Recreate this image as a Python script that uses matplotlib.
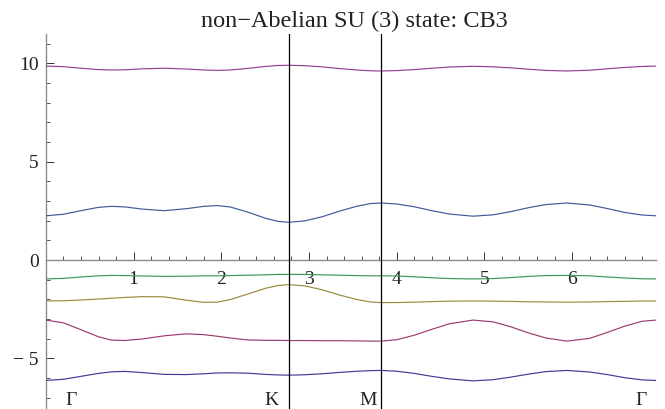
import colorsys
import matplotlib
matplotlib.use("Agg")
import matplotlib.pyplot as plt
from matplotlib.ticker import FixedLocator

# ---- data ----
title = "non\u2212Abelian SU (3) state: CB3"
k_pos = 2.77
m_pos = 3.82
x_end = 6.96
sym_labels = ["\u0393", "K", "M", "\u0393"]
sym_x = [0.29, 2.57, 3.67, 6.79]
sym_y = -7.14

k = [0.0, 0.2, 0.4, 0.6, 0.75, 0.9, 1.1, 1.35, 1.6, 1.8, 1.95, 2.1, 2.3, 2.5, 2.65,
     2.77, 2.95, 3.15, 3.35, 3.55, 3.7, 3.82, 4.0, 4.2, 4.4, 4.6, 4.87, 5.1, 5.3,
     5.5, 5.7, 5.94, 6.2, 6.4, 6.6, 6.8, 6.96]

band_top = [9.86, 9.83, 9.75, 9.68, 9.66, 9.67, 9.72, 9.75, 9.71, 9.66, 9.64, 9.66,
            9.74, 9.84, 9.89, 9.90, 9.88, 9.82, 9.73, 9.66, 9.62, 9.61, 9.63, 9.68,
            9.75, 9.81, 9.85, 9.82, 9.77, 9.70, 9.64, 9.61, 9.65, 9.72, 9.79, 9.84, 9.86]
band_b2 = [2.25, 2.33, 2.51, 2.68, 2.73, 2.70, 2.59, 2.51, 2.61, 2.73, 2.77, 2.70,
           2.44, 2.13, 1.96, 1.92, 1.99, 2.20, 2.49, 2.74, 2.87, 2.90, 2.85, 2.71,
           2.51, 2.34, 2.23, 2.30, 2.46, 2.66, 2.82, 2.90, 2.80, 2.62, 2.42, 2.29, 2.25]
band_green = [-0.96, -0.93, -0.86, -0.80, -0.78, -0.79, -0.81, -0.83, -0.82, -0.80,
              -0.80, -0.79, -0.77, -0.75, -0.73, -0.73, -0.73, -0.75, -0.77, -0.79,
              -0.80, -0.80, -0.81, -0.85, -0.90, -0.94, -0.96, -0.94, -0.89, -0.83,
              -0.79, -0.78, -0.80, -0.86, -0.91, -0.95, -0.96]
band_olive = [-2.08, -2.07, -2.03, -1.98, -1.94, -1.90, -1.86, -1.87, -2.04, -2.15,
              -2.14, -2.01, -1.73, -1.44, -1.29, -1.25, -1.31, -1.51, -1.78, -2.01,
              -2.13, -2.16, -2.16, -2.14, -2.11, -2.09, -2.08, -2.09, -2.10, -2.12,
              -2.13, -2.14, -2.13, -2.11, -2.10, -2.08, -2.08]
band_lmag = [-3.05, -3.19, -3.54, -3.90, -4.07, -4.09, -4.01, -3.85, -3.75, -3.79,
             -3.87, -3.96, -4.06, -4.08, -4.08, -4.09, -4.09, -4.10, -4.10, -4.11,
             -4.12, -4.12, -4.05, -3.82, -3.52, -3.24, -3.05, -3.14, -3.39, -3.70,
             -3.96, -4.12, -3.98, -3.68, -3.36, -3.11, -3.05]
band_lblue = [-6.12, -6.06, -5.91, -5.76, -5.68, -5.66, -5.72, -5.81, -5.82, -5.78,
              -5.74, -5.73, -5.75, -5.81, -5.84, -5.85, -5.83, -5.78, -5.71, -5.65,
              -5.62, -5.61, -5.65, -5.76, -5.91, -6.04, -6.14, -6.08, -5.95, -5.80,
              -5.67, -5.61, -5.69, -5.82, -5.98, -6.09, -6.12]

bands = [band_lblue, band_lmag, band_olive, band_green, band_b2, band_top]
hues = [0.67, 0.906, 0.142, 0.378, 0.613, 0.849]

x_major = [1, 2, 3, 4, 5, 6]
y_major = [-5, 0, 5, 10]
y_labels = ["\u2212 5", "0", "5", "10"]

# ---- figure ----
W, H = 665, 409
fig = plt.figure(figsize=(W / 100, H / 100), dpi=100)
x0_px, x1_px = 45.9, 656.3
ytop, ybot = 11.5, -7.57
top_px = 33.8
ax = fig.add_axes([x0_px / W, 0.0, (x1_px - x0_px) / W, (H - top_px) / H])
ax.set_xlim(0, x_end)
ax.set_ylim(ybot, ytop)
ax.patch.set_alpha(0)

serif = ["Liberation Serif", "DejaVu Serif"]

for ys, h in zip(bands, hues):
    col = colorsys.hsv_to_rgb(h, 0.6, 0.6)
    ax.plot(k, ys, color=col, lw=0.85, solid_joinstyle="round", zorder=3)

for xv in (k_pos, m_pos):
    ax.axvline(xv, color="black", lw=0.9, zorder=4)

for s in ("top", "right"):
    ax.spines[s].set_visible(False)
ax.spines["left"].set_position(("data", 0))
ax.spines["bottom"].set_position(("data", 0))
for s in ("left", "bottom"):
    ax.spines[s].set_color("#8c8c8c")
    ax.spines[s].set_linewidth(1.0)

ax.xaxis.set_major_locator(FixedLocator(x_major))
ax.xaxis.set_minor_locator(FixedLocator([i * 0.2 for i in range(1, 35) if i % 5 != 0]))
ax.yaxis.set_major_locator(FixedLocator(y_major))
ax.yaxis.set_minor_locator(FixedLocator([v for v in range(-7, 12) if v % 5 != 0]))
ax.set_xticklabels([str(v) for v in x_major])
ax.set_yticklabels(y_labels)

ax.tick_params(axis="x", which="major", direction="in", length=5.5, width=0.7,
               color="#333333", pad=8, labelsize=14)
ax.tick_params(axis="x", which="minor", direction="in", length=3, width=0.6,
               color="#333333")
ax.tick_params(axis="y", which="major", direction="in", length=5.5, width=0.7,
               color="#333333", pad=5, labelsize=14)
ax.tick_params(axis="y", which="minor", direction="in", length=3, width=0.6,
               color="#333333")
for lab in ax.get_xticklabels() + ax.get_yticklabels():
    lab.set_family(serif)
    lab.set_color("#222222")

for t, xv in zip(sym_labels, sym_x):
    ax.text(xv, sym_y, t, ha="center", va="center", fontsize=14, family=serif,
            color="#222222", zorder=5)

fig.text(354 / W, 1 - 21 / H, title, ha="center", va="center", fontsize=17.5,
         family=serif, color="#222222")

fig.savefig("out.png", dpi=100)
